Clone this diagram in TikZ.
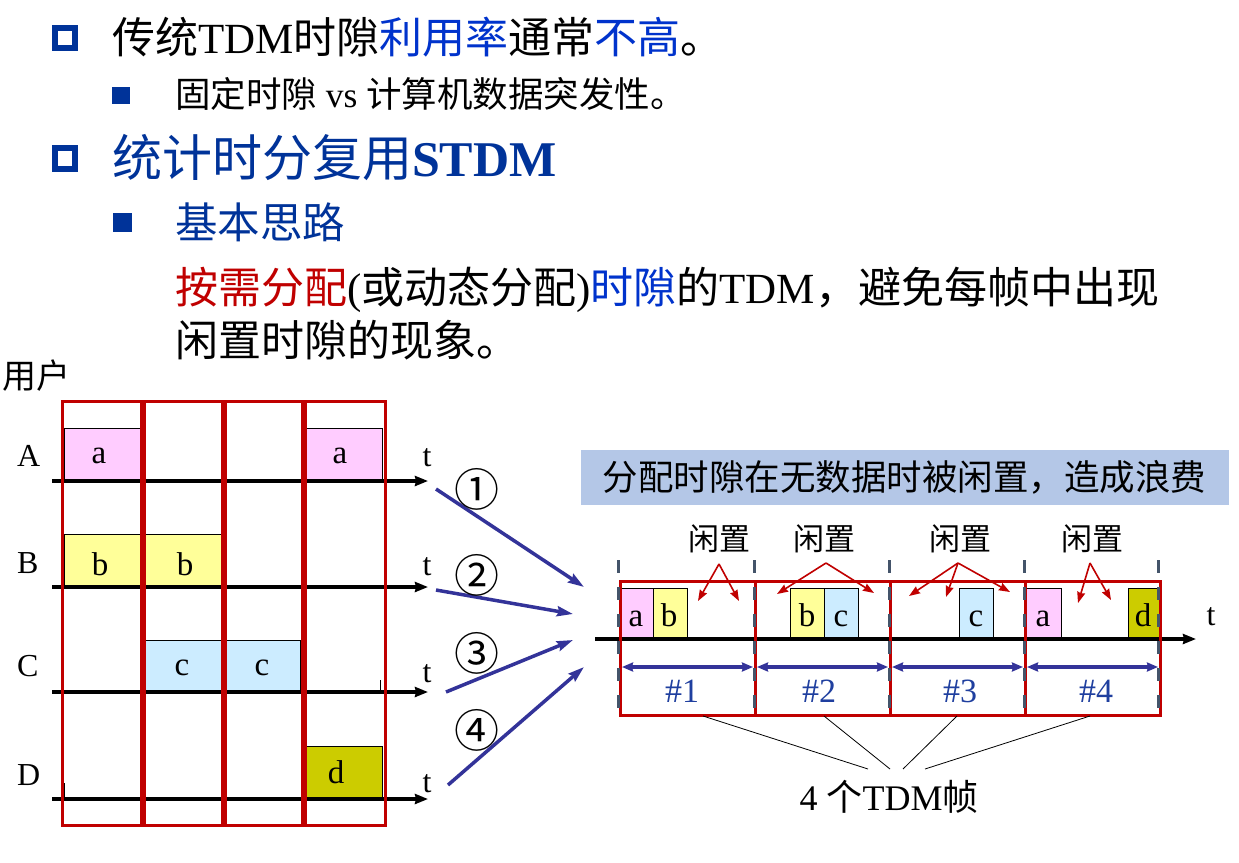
\documentclass[tikz,border=0pt]{standalone}
\usepackage{fontspec}
\setmainfont{Liberation Serif}
\newfontfamily\cjk{Noto Sans CJK SC}
\usetikzlibrary{arrows.meta}
\definecolor{bulletblue}{HTML}{003399}
\definecolor{bluetxt}{HTML}{0033CC}
\definecolor{redtxt}{HTML}{C00000}
\definecolor{framered}{HTML}{C00000}
\definecolor{arrowblue}{HTML}{333399}
\definecolor{hdrfill}{HTML}{B4C7E7}
\definecolor{dashgray}{HTML}{44546A}
\definecolor{numblue}{HTML}{1F3F9F}
\definecolor{pinkbox}{HTML}{FFCCFF}
\definecolor{yellowbox}{HTML}{FFFF99}
\definecolor{cyanbox}{HTML}{CCECFF}
\definecolor{olivebox}{HTML}{CCCC00}
\newcommand\zh[1]{{\cjk #1}}
\newcommand\fs[1]{\fontsize{#1}{#1}\selectfont}
\begin{document}
\begin{tikzpicture}[x=1pt,y=-1pt,
  txt/.style={inner sep=0pt, outer sep=0pt},
  slot/.style={draw=black, line width=0.8pt},
  axis/.style={line width=4pt, -{Stealth[length=13pt,width=10pt,inset=1pt]}},
  col/.style={draw=framered, line width=3pt},
  feed/.style={draw=arrowblue, line width=3.5pt, -{Stealth[length=16pt,width=10pt,inset=2pt]}},
  dbl/.style={draw=arrowblue, line width=4pt, {Stealth[length=11pt,width=9pt,inset=1pt]}-{Stealth[length=11pt,width=9pt,inset=1pt]}},
  idle/.style={draw=framered, line width=1.6pt, -{Stealth[length=11pt,width=8pt,inset=1pt]}},
  dsh/.style={draw=dashgray, line width=3pt, dash pattern=on 13pt off 14pt},
  thin/.style={draw=black, line width=0.8pt},
  bigl/.style={txt, anchor=base, font=\fs{32}},
  slotl/.style={txt, anchor=base, font=\fs{33}},
]
\useasboundingbox (0,0) rectangle (1239,862);
\fill[white] (0,0) rectangle (1239,862);

% ---------- bullets ----------
\draw[bulletblue, line width=6pt] (55,28) rectangle (75,48);
\fill[bulletblue] (112,87) rectangle (130,104);
\draw[bulletblue, line width=6pt] (55,148) rectangle (75,169);
\fill[bulletblue] (113,213) rectangle (132,232);

% ---------- text lines ----------
\node[txt, anchor=base west] (l1) at (112,53) {\fs{43}\zh{传统}TDM\zh{时隙}\textcolor{bluetxt}{\zh{利用率}}\zh{通常}\textcolor{bluetxt}{\zh{不高}}\zh{。}};
\node[txt, anchor=base west] (l2) at (175,107) {\fs{35.5}\zh{固定时隙} vs \zh{计算机数据突发性。}};
\node[txt, anchor=base west, text=bulletblue] (l3) at (112,176) {\fs{50}\zh{统计时分复用}\textbf{STDM}};
\node[txt, anchor=base west, text=bulletblue] (l4) at (175,238) {\fs{42.5}\zh{基本思路}};
\node[txt, anchor=base west] (l5) at (175,303) {\fs{43}\textcolor{redtxt}{\zh{按需分配}}(\zh{或动态分配})\textcolor{bluetxt}{\zh{时隙}}\zh{的}TDM\zh{，避免每帧中出现}};
\node[txt, anchor=base west] (l6) at (175,356) {\fs{43}\zh{闲置时隙的现象。}};
\node[txt, anchor=base west] (users) at (2,388) {\fs{34}\zh{用户}};

% ---------- left diagram: slots ----------
\draw[slot, fill=pinkbox] (64,428) rectangle (143,481);
\draw[slot, fill=pinkbox] (306,428) rectangle (382,481);
\draw[slot, fill=yellowbox] (64,534) rectangle (143,587);
\draw[slot, fill=yellowbox] (143,534) rectangle (221,587);
\draw[slot, fill=cyanbox] (143,640) rectangle (221,692);
\draw[slot, fill=cyanbox] (221,640) rectangle (300,692);
\draw[slot, fill=olivebox] (306,746) rectangle (382,799);
\node[slotl] (sa1) at (99,463) {a};
\node[slotl] (sa2) at (340,463) {a};
\node[slotl] (sb1) at (100,575) {b};
\node[slotl] (sb2) at (185,575) {b};
\node[slotl] (sc1) at (182,675) {c};
\node[slotl] (sc2) at (262,675) {c};
\node[slotl] (sd1) at (336,783) {d};

% axes
\coordinate (axA0) at (52,481); \coordinate (axA1) at (428,481);
\coordinate (axB0) at (52,587); \coordinate (axB1) at (428,587);
\coordinate (axC0) at (52,692); \coordinate (axC1) at (428,692);
\coordinate (axD0) at (52,799); \coordinate (axD1) at (428,799);
\draw[axis] (axA0) -- (axA1);
\draw[axis] (axB0) -- (axB1);
\draw[axis] (axC0) -- (axC1);
\draw[axis] (axD0) -- (axD1);
\draw[thin] (380,680) -- (380,692);
\draw[thin] (64,783) -- (64,799);
\draw[thin] (143,787) -- (143,799);

% columns
\draw[col] (62.5,401.5) rectangle (141,825);
\draw[col] (144.5,401.5) rectangle (222,825);
\draw[col] (225,401.5) rectangle (302,825);
\draw[col] (305.5,401.5) rectangle (385.5,825);

% user labels and t
\node[txt, anchor=base west, font=\fs{32}] (uA) at (17,466) {A};
\node[txt, anchor=base west, font=\fs{32}] (uB) at (17,573) {B};
\node[txt, anchor=base west, font=\fs{32}] (uC) at (17,676) {C};
\node[txt, anchor=base west, font=\fs{32}] (uD) at (17,785) {D};
\node[bigl] (tA) at (427,466) {t};
\node[bigl] (tB) at (427,575) {t};
\node[bigl] (tC) at (427,682) {t};
\node[bigl] (tD) at (427,792) {t};

% ---------- feed arrows ----------
\coordinate (f1s) at (436,489); \coordinate (f1e) at (584,587);
\coordinate (f2s) at (436,590); \coordinate (f2e) at (573,614);
\coordinate (f3s) at (446,692); \coordinate (f3e) at (573,640);
\coordinate (f4s) at (448,785); \coordinate (f4e) at (584,667);
\draw[feed] (f1s) -- (f1e);
\draw[feed] (f2s) -- (f2e);
\draw[feed] (f3s) -- (f3e);
\draw[feed] (f4s) -- (f4e);
\node[txt, font=\fs{45}] (n1) at (477,489) {\zh{①}};
\node[txt, font=\fs{45}] (n2) at (477,575) {\zh{②}};
\node[txt, font=\fs{45}] (n3) at (477,653) {\zh{③}};
\node[txt, font=\fs{45}] (n4) at (477,730) {\zh{④}};

% ---------- right diagram ----------
\node[fill=hdrfill, minimum width=648pt, minimum height=55pt, inner sep=0pt, font=\fs{35.5}] (hdr) at (904.5,477.5) {\zh{分配时隙在无数据时被闲置，造成浪费}};

\draw[slot, fill=pinkbox] (621,588) rectangle (653,639);
\draw[slot, fill=yellowbox] (653,588) rectangle (687,639);
\draw[slot, fill=yellowbox] (790,588) rectangle (824,639);
\draw[slot, fill=cyanbox] (824,588) rectangle (858,639);
\draw[slot, fill=cyanbox] (959,588) rectangle (993,639);
\draw[slot, fill=pinkbox] (1026,588) rectangle (1061,639);
\draw[slot, fill=olivebox] (1128,588) rectangle (1159,639);
\node[slotl] (ra1) at (636,626) {a};
\node[slotl] (rb1) at (669,626) {b};
\node[slotl] (rb2) at (807,626) {b};
\node[slotl] (rc2) at (841,626) {c};
\node[slotl] (rc3) at (976,626) {c};
\node[slotl] (ra4) at (1043,626) {a};
\node[slotl] (rd4) at (1143,626) {d};

\coordinate (ax0) at (595,639); \coordinate (ax1) at (1196,639);
\draw[axis] (ax0) -- (ax1);
\node[bigl] (tR) at (1211,625) {t};

\draw[col] (620,581) rectangle (755,715);
\draw[col] (755,581) rectangle (890,715);
\draw[col] (890,581) rectangle (1025,715);
\draw[col] (1025,581) rectangle (1160,715);

\foreach \x in {618.5,754,889.5,1024,1158.5}{
  \draw[dsh] (\x,560) -- (\x,716);
}

\draw[dbl] (622,667) -- (753,667);
\draw[dbl] (757,667) -- (888,667);
\draw[dbl] (892,667) -- (1023,667);
\draw[dbl] (1027,667) -- (1158,667);
\node[txt, anchor=base, font=\fs{34}, text=numblue] (fr1) at (682,702) {\#1};
\node[txt, anchor=base, font=\fs{34}, text=numblue] (fr2) at (819,702) {\#2};
\node[txt, anchor=base, font=\fs{34}, text=numblue] (fr3) at (960,702) {\#3};
\node[txt, anchor=base, font=\fs{34}, text=numblue] (fr4) at (1096,702) {\#4};

% idle labels and arrows
\node[txt, font=\fs{31}] (i1) at (719,539) {\zh{闲置}};
\node[txt, font=\fs{31}] (i2) at (824,539) {\zh{闲置}};
\node[txt, font=\fs{31}] (i3) at (960,539) {\zh{闲置}};
\node[txt, font=\fs{31}] (i4) at (1092,539) {\zh{闲置}};
\coordinate (o1) at (719,564);
\coordinate (o2) at (826,563);
\coordinate (o3) at (958,563);
\coordinate (o4) at (1090,563);
\draw[idle] (o1) -- (698,601);
\draw[idle] (o1) -- (739,601);
\draw[idle] (o2) -- (777,594);
\draw[idle] (o2) -- (874,593);
\draw[idle] (o3) -- (909,596);
\draw[idle] (o3) -- (946,597);
\draw[idle] (o3) -- (1010,592);
\draw[idle] (o4) -- (1078,603);
\draw[idle] (o4) -- (1111,600);

% frames label
\node[txt, anchor=base, font=\fs{36}] (frames) at (889,810) {4 \zh{个}TDM\zh{帧}};
\coordinate (b1) at (703,716); \coordinate (e1) at (868,769);
\coordinate (b2) at (824,716); \coordinate (e2) at (890,769);
\coordinate (b3) at (957,716); \coordinate (e3) at (903,769);
\coordinate (b4) at (1090,716); \coordinate (e4) at (925,769);
\draw[thin] (b1) -- (e1);
\draw[thin] (b2) -- (e2);
\draw[thin] (b3) -- (e3);
\draw[thin] (b4) -- (e4);
\end{tikzpicture}
\end{document}
